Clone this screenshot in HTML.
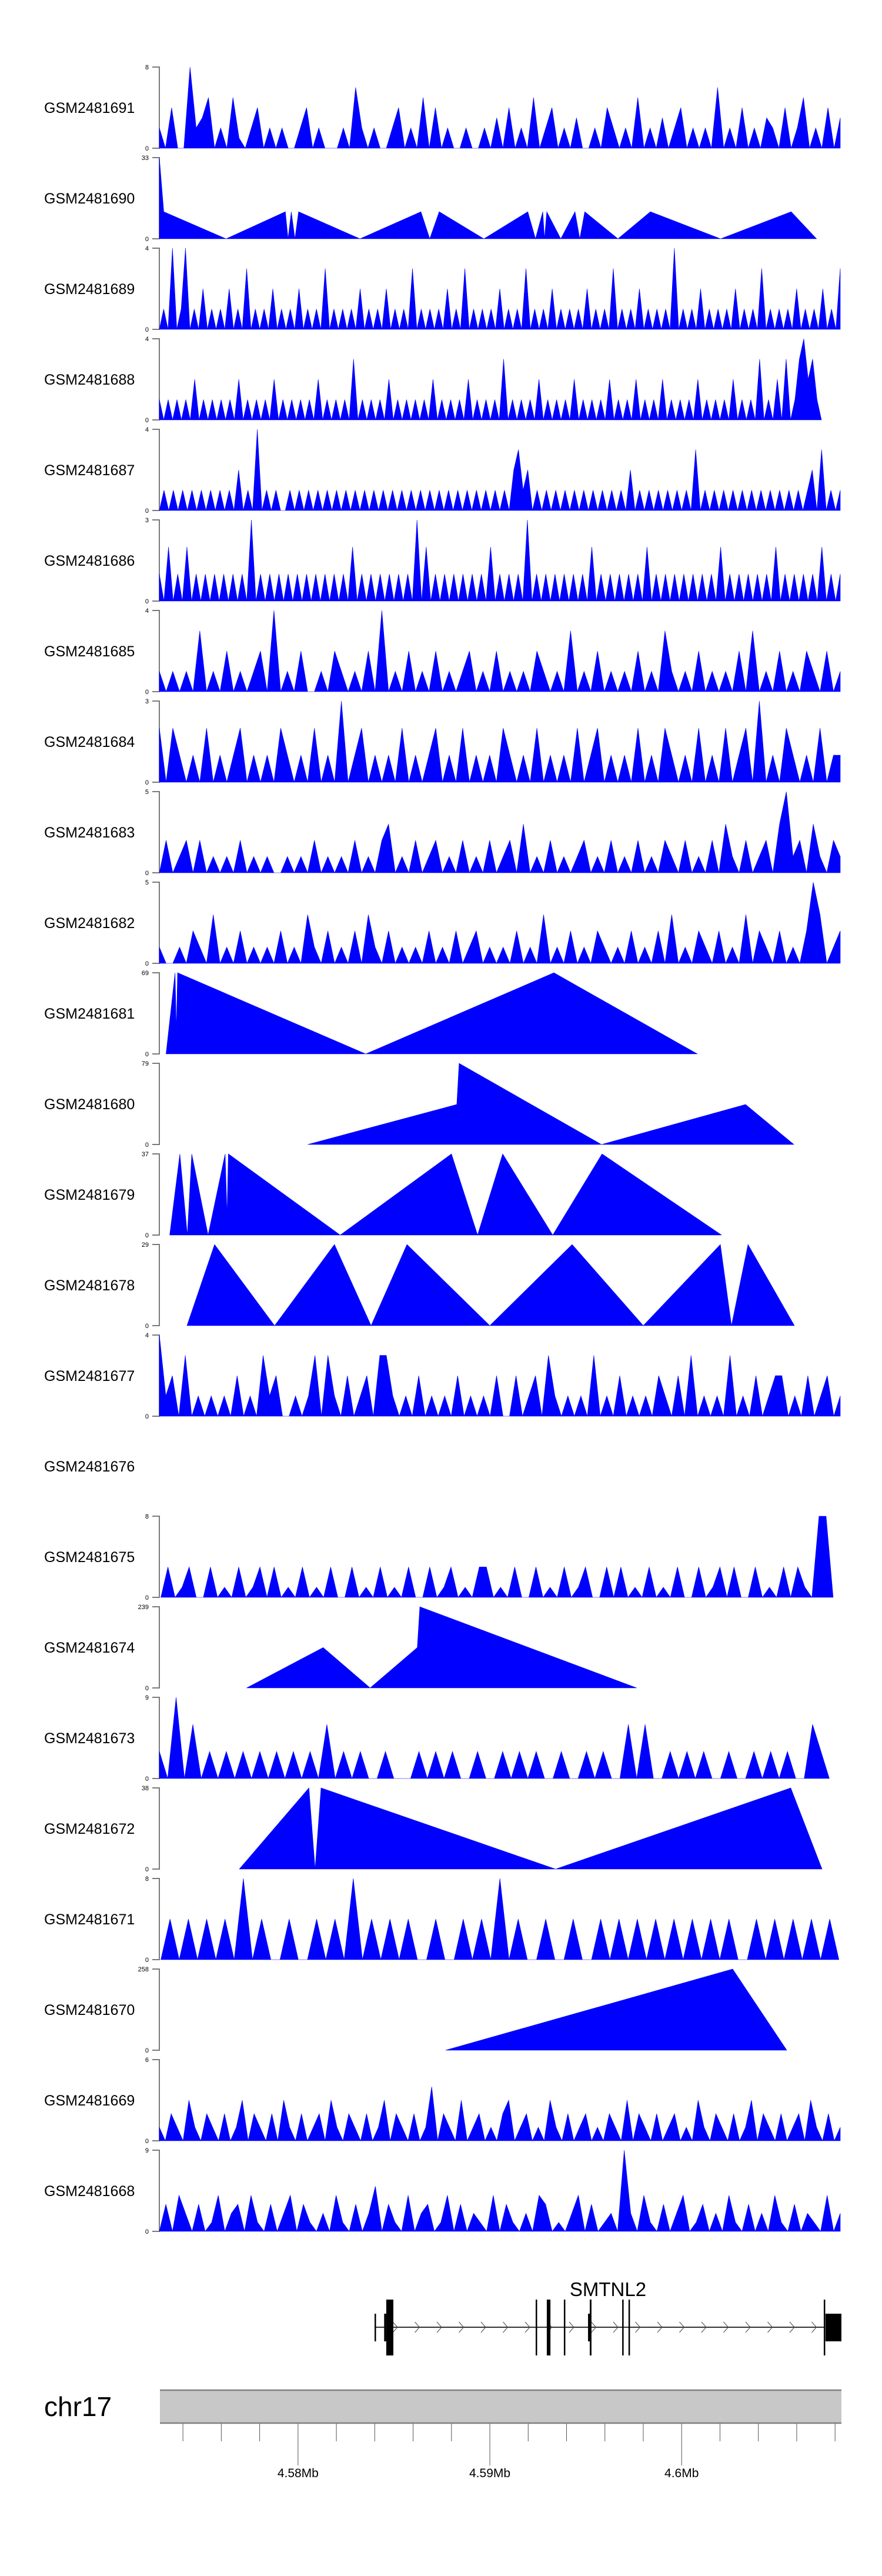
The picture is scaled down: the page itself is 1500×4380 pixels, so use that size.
<!DOCTYPE html>
<html><head><meta charset="utf-8"><style>
html,body{margin:0;padding:0;background:#fff;}
svg{display:block;font-family:"Liberation Sans",sans-serif;}
</style></head><body>
<svg id="chart" width="1500" height="4380" viewBox="0 0 1500 4380" xmlns="http://www.w3.org/2000/svg">
<g id="tracks"></g>
<g id="gene"></g>
<g id="ideo"></g>
</svg>
<script>
// ---- data ----
const trackNames = ["GSM2481691","GSM2481690","GSM2481689","GSM2481688","GSM2481687","GSM2481686","GSM2481685","GSM2481684","GSM2481683","GSM2481682","GSM2481681","GSM2481680","GSM2481679","GSM2481678","GSM2481677","GSM2481676","GSM2481675","GSM2481674","GSM2481673","GSM2481672","GSM2481671","GSM2481670","GSM2481669","GSM2481668"];
const trackMax = [8,33,4,4,4,3,4,3,5,5,69,79,37,29,4,null,8,239,9,38,8,258,6,9];

// point tracks: positions (kb) and values
const pos1690 = [4572.77,4573.00,4576.25,4579.34,4579.48,4579.65,4579.84,4580.03,4583.23,4586.41,4586.87,4587.36,4589.69,4591.98,4592.38,4592.76,4592.85,4592.97,4593.70,4594.44,4594.69,4594.95,4596.68,4598.37,4602.03,4605.71,4607.03];
const val1690 = [33,11,0,11,0,11,0,11,0,11,0,11,0,11,0,11,0,11,0,11,0,11,0,11,0,11,0];
const pos1681 = [4573.12,4573.59,4573.66,4573.72,4583.53,4593.34,4600.82];
const val1681 = [0,69,20,69,0,69,0];
const pos1680 = [4580.50,4588.28,4588.40,4595.82,4603.33,4605.85];
const val1680 = [0,39,79,0,39,0];
const pos1679 = [4573.31,4573.84,4574.23,4574.46,4575.31,4576.20,4576.30,4576.37,4582.20,4588.00,4589.36,4590.67,4593.28,4595.85,4602.08];
const val1679 = [0,37,0,37,0,37,9,37,0,37,0,37,0,37,0];
const pos1678 = [4574.21,4575.65,4578.78,4581.90,4583.81,4585.68,4590.00,4594.29,4598.00,4602.02,4602.60,4603.46,4605.88];
const val1678 = [0,29,0,29,0,29,0,29,0,29,0,29,0];
const pos1674 = [4577.32,4581.31,4583.76,4586.22,4586.35,4597.66];
const val1674 = [0,119,0,119,239,0];
const pos1672 = [4576.94,4580.57,4580.89,4581.20,4593.43,4605.69,4607.32];
const val1672 = [0,38,0,38,0,38,0];
const pos1670 = [4587.69,4602.66,4605.48];
const val1670 = [0,258,0];

// evenly sampled tracks: range (kb) and values
const range1691 = [4572.77,4608.27];
const val1691 = [2,0,4,0,0,8,2,3,5,0,2,0,5,1,0,2,4,0,2,0,2,0,0,2,4,0,2,0,0,0,2,0,6,2,0,2,0,0,2,4,0,2,0,5,0,4,0,2,0,0,2,0,0,2,0,3,0,4,0,2,0,5,0,2,4,0,2,0,3,0,0,2,0,4,2,0,2,0,5,0,2,0,3,0,2,4,0,2,0,2,0,6,0,2,0,4,0,2,0,3,2,0,4,0,2,5,0,2,0,4,0,3];
const range1689 = [4572.77,4608.27];
const val1689 = [0,1,0,4,0,1,4,0,1,0,2,0,1,0,1,0,2,0,1,0,3,0,1,0,1,0,2,0,1,0,1,0,2,0,1,0,1,0,3,0,1,0,1,0,1,0,2,0,1,0,1,0,2,0,1,0,1,0,3,0,1,0,1,0,1,0,2,0,1,0,3,0,1,0,1,0,1,0,2,0,1,0,1,0,3,0,1,0,1,0,2,0,1,0,1,0,1,0,2,0,1,0,1,0,3,0,1,0,1,0,2,0,1,0,1,0,1,0,4,0,1,0,1,0,2,0,1,0,1,0,1,0,2,0,1,0,1,0,3,0,1,0,1,0,1,0,2,0,1,0,1,0,2,0,1,0,3];
const range1688 = [4572.77,4607.29];
const val1688 = [1,0,1,0,1,0,1,0,2,0,1,0,1,0,1,0,1,0,2,0,1,0,1,0,1,0,2,0,1,0,1,0,1,0,1,0,2,0,1,0,1,0,1,0,3,0,1,0,1,0,1,0,2,0,1,0,1,0,1,0,1,0,2,0,1,0,1,0,1,0,2,0,1,0,1,0,1,0,3,0,1,0,1,0,1,0,2,0,1,0,1,0,1,0,2,0,1,0,1,0,1,0,2,0,1,0,1,0,2,0,1,0,1,0,2,0,1,0,1,0,1,0,2,0,1,0,1,0,1,0,2,0,1,0,1,0,3,0,1,0,2,0,3,0,1,3,4,2,3,1,0];
const range1687 = [4572.77,4608.27];
const val1687 = [0,1,0,1,0,1,0,1,0,1,0,1,0,1,0,1,0,2,0,1,0,4,0,1,0,1,0,0,1,0,1,0,1,0,1,0,1,0,1,0,1,0,1,0,1,0,1,0,1,0,1,0,1,0,1,0,1,0,1,0,1,0,1,0,1,0,1,0,1,0,1,0,1,0,1,0,2,3,1,2,0,1,0,1,0,1,0,1,0,1,0,1,0,1,0,1,0,1,0,1,0,2,0,1,0,1,0,1,0,1,0,1,0,1,0,3,0,1,0,1,0,1,0,1,0,1,0,1,0,1,0,1,0,1,0,1,0,1,0,1,2,0,3,0,1,0,1];
const range1686 = [4572.77,4608.27];
const val1686 = [1,0,2,0,1,0,2,0,1,0,1,0,1,0,1,0,1,0,1,0,3,0,1,0,1,0,1,0,1,0,1,0,1,0,1,0,1,0,1,0,1,0,2,0,1,0,1,0,1,0,1,0,1,0,1,0,3,0,2,0,1,0,1,0,1,0,1,0,1,0,1,0,2,0,1,0,1,0,1,0,3,0,1,0,1,0,1,0,1,0,1,0,1,0,2,0,1,0,1,0,1,0,1,0,1,0,2,0,1,0,1,0,1,0,1,0,1,0,1,0,1,0,2,0,1,0,1,0,1,0,1,0,1,0,2,0,1,0,1,0,1,0,1,0,2,0,1,0,1];
const range1685 = [4572.77,4608.27];
const val1685 = [1,0,1,0,1,0,3,0,1,0,2,0,1,0,1,2,0,4,0,1,0,2,0,0,1,0,2,1,0,1,0,2,0,4,0,1,0,2,0,1,0,2,0,1,0,1,2,0,1,0,2,0,1,0,1,0,2,1,0,1,0,3,0,1,0,2,0,1,0,1,0,2,0,1,0,3,1,0,1,0,2,0,1,0,1,0,2,0,3,0,1,0,2,0,1,0,2,1,0,2,0,1];
const range1684 = [4572.77,4608.27];
const val1684 = [2,0,2,1,0,1,0,2,0,1,0,1,2,0,1,0,1,0,2,1,0,1,0,2,0,1,0,3,0,1,2,0,1,0,1,0,2,0,1,0,1,2,0,1,0,2,0,1,0,1,0,2,1,0,1,0,2,0,1,0,1,0,2,0,1,2,0,1,0,1,0,2,0,1,0,2,1,0,1,0,2,0,1,0,2,0,1,2,0,3,0,1,0,2,1,0,1,0,2,0,1,1];
const range1683 = [4572.77,4608.27];
const val1683 = [0,2,0,1,2,0,2,0,1,0,1,0,2,0,1,0,1,0,0,1,0,1,0,2,0,1,0,1,0,2,0,1,0,2,3,0,1,0,2,0,1,2,0,1,0,2,0,1,0,2,0,1,2,0,3,0,1,0,2,0,1,0,1,2,0,1,0,2,0,1,0,2,0,1,0,2,1,0,2,0,1,0,2,0,3,1,0,2,0,1,2,0,3,5,1,2,0,3,1,0,2,1];
const range1682 = [4572.77,4608.27];
const val1682 = [1,0,0,1,0,2,1,0,3,0,1,0,2,0,1,0,1,0,2,0,1,0,3,1,0,2,0,1,0,2,0,3,1,0,2,0,1,0,1,0,2,0,1,0,2,0,1,2,0,1,0,1,0,2,0,1,0,3,0,1,0,2,0,1,0,2,1,0,1,0,2,0,1,0,2,0,3,0,1,0,2,1,0,2,0,1,0,3,0,2,1,0,2,0,1,0,2,5,3,0,1,2];
const range1677 = [4572.77,4608.27];
const val1677 = [4,1,2,0,3,0,1,0,1,0,1,0,2,0,1,0,3,1,2,0,0,1,0,1,3,0,3,1,0,2,0,1,2,0,3,3,1,0,1,0,2,0,1,0,1,0,2,0,1,0,1,0,2,0,0,2,0,1,2,0,3,1,0,1,0,1,0,3,0,1,0,2,0,1,0,1,0,2,1,0,2,0,3,0,1,0,1,0,3,0,1,0,2,0,1,2,2,0,1,0,2,0,1,2,0,1];
const range1675 = [4572.85,4607.9];
const val1675 = [0,3,0,1,3,0,0,3,0,1,0,3,0,1,3,0,3,0,1,0,3,0,1,0,3,0,0,3,0,1,0,3,0,1,0,3,0,0,3,0,1,3,0,1,0,3,3,0,1,0,3,0,0,3,0,1,0,3,0,1,3,0,0,3,0,3,0,1,0,3,0,1,0,3,0,0,3,0,1,3,0,3,0,0,3,0,1,0,3,0,3,1,0,8,8,0];
const range1673 = [4572.77,4607.70];
const val1673 = [3,0,9,0,6,0,3,0,3,0,3,0,3,0,3,0,3,0,3,0,6,0,3,0,3,0,0,3,0,0,0,3,0,3,0,3,0,0,3,0,0,3,0,3,0,3,0,0,3,0,0,3,0,3,0,0,6,0,6,0,0,3,0,3,0,3,0,0,3,0,0,3,0,3,0,3,0,0,6,3,0];
const range1671 = [4572.85,4608.20];
const val1671 = [0,4,0,4,0,4,0,4,0,8,0,4,0,0,4,0,0,4,0,4,0,8,0,4,0,4,0,4,0,0,4,0,0,4,0,4,0,8,0,4,0,0,4,0,0,4,0,0,4,0,4,0,4,0,4,0,4,0,4,0,4,0,4,0,0,4,0,4,0,4,0,4,0,4,0];
const range1669 = [4572.77,4608.27];
const val1669 = [1,0,2,1,0,3,1,0,2,1,0,2,0,1,3,0,2,1,0,2,0,3,1,0,2,0,1,2,0,3,1,0,2,1,0,2,0,1,3,0,2,1,0,2,0,1,4,0,2,1,0,3,0,1,2,0,1,0,2,3,0,1,2,0,1,0,3,1,0,2,0,1,2,0,1,0,2,1,0,3,0,2,1,0,2,0,1,2,0,1,0,3,1,0,2,1,0,2,0,1,3,0,2,1,0,2,0,1,2,0,3,1,0,2,0,1];
const range1668 = [4572.77,4608.27];
const val1668 = [0,3,0,4,2,0,3,0,1,4,0,2,3,0,4,1,0,3,0,2,4,0,3,1,0,2,0,4,1,0,3,0,2,5,0,3,1,0,4,0,2,3,0,1,4,0,3,0,2,1,0,4,0,3,1,0,2,0,4,3,0,1,0,2,4,0,3,0,1,2,0,9,2,0,4,1,0,3,0,2,4,0,1,3,0,2,0,4,1,0,3,0,2,0,4,1,0,3,0,2,1,0,4,0,2];

// gene model (kb)
const exonStarts = [4583.99,4584.49,4584.60,4592.39,4592.97,4593.86,4595.12,4595.21,4596.90,4597.23,4607.41,4607.50];
const exonEnds   = [4584.05,4584.60,4584.97,4592.45,4593.16,4593.92,4595.21,4595.30,4596.96,4597.29,4607.48,4608.33];
const exonTall   = [0,0,1,1,1,1,0,1,1,1,1,0];
const geneSpan = [4583.99,4607.45];
const axisTicks = [4574,4576,4578,4580,4582,4584,4586,4588,4590,4592,4594,4596,4598,4600,4602,4604,4606,4608];
const axisLabels = ["4.58Mb","4.59Mb","4.6Mb"];
const axisLabelPos = [4580,4590,4600];

// ---- drawing ----
const NS = "http://www.w3.org/2000/svg";
const W0 = 271, W1 = 1429, KB0 = 4572.77, KB1 = 4608.27;
function xs(kb){ return W0 + (kb-KB0)/(KB1-KB0)*(W1-W0); }
function trackTop(i){ return 114 + 154*i; }
const TH = 138;
function ys(v,max,i){ return trackTop(i) + TH - v/max*TH; }
function mk(tag, attrs, parent){
  const e = document.createElementNS(NS, tag);
  for (const k in attrs) e.setAttribute(k, attrs[k]);
  parent.appendChild(e);
  return e;
}
const pointData = {1:[pos1690,val1690],10:[pos1681,val1681],11:[pos1680,val1680],12:[pos1679,val1679],13:[pos1678,val1678],17:[pos1674,val1674],19:[pos1672,val1672],21:[pos1670,val1670]};
const evenData = {0:[range1691,val1691],2:[range1689,val1689],3:[range1688,val1688],4:[range1687,val1687],5:[range1686,val1686],6:[range1685,val1685],7:[range1684,val1684],8:[range1683,val1683],9:[range1682,val1682],14:[range1677,val1677],16:[range1675,val1675],18:[range1673,val1673],20:[range1671,val1671],22:[range1669,val1669],23:[range1668,val1668]};

const tracksG = document.getElementById("tracks");
trackNames.forEach((name,i)=>{
  const g = mk("g",{},tracksG);
  
  
  const top = trackTop(i), bot = top + TH;
  const lab = mk("text",{x:75,y:top+TH/2+9,"font-size":25,fill:"#000"},g);
  lab.textContent = name;
  
  
  const max = trackMax[i];
  if (max === null) return;
  const ax = mk("path",{d:`M259 ${top}H271V${bot}H259`,fill:"none",stroke:"#7a7a7a","stroke-width":2},g);
  
  
  const t1 = mk("text",{x:253,y:top+4,"font-size":11,"text-anchor":"end",fill:"#000"},g);
  t1.textContent = String(max);
  
  
  const t0 = mk("text",{x:253,y:bot+4,"font-size":11,"text-anchor":"end",fill:"#000"},g);
  t0.textContent = "0";
  
  
  let pts = [];
  if (pointData[i]) {
    const [p,v] = pointData[i];
    pts = p.map((kb,k)=>[xs(kb), ys(v[k],max,i)]);
  } else {
    const [r,v] = evenData[i];
    const n = v.length;
    pts = v.map((val,k)=>[xs(r[0] + (r[1]-r[0])*k/(n-1)), ys(val,max,i)]);
  }
  let d = `M${pts[0][0].toFixed(1)} ${bot}`;
  pts.forEach(p=>{ d += `L${p[0].toFixed(1)} ${p[1].toFixed(1)}`; });
  d += `L${pts[pts.length-1][0].toFixed(1)} ${bot}Z`;
  const area = mk("path",{d:d,fill:"#0000ff",stroke:"#0000ff","stroke-width":0.6},g);
  
  
});

// gene track
const geneG = document.getElementById("gene");
const gy = 3957;
const gl = mk("line",{x1:xs(geneSpan[0]),x2:xs(geneSpan[1]),y1:gy,y2:gy,stroke:"#333","stroke-width":2},geneG);


for (let x = xs(geneSpan[0]) + 35; x < xs(geneSpan[1]) - 5; x += 37.5) {
  const c = mk("path",{d:`M${x-4} ${gy-9}L${x+4} ${gy}L${x-4} ${gy+9}`,fill:"none",stroke:"#444","stroke-width":1},geneG);
  
  
}
exonStarts.forEach((s,k)=>{
  const x0 = xs(s), x1 = xs(exonEnds[k]);
  const tall = exonTall[k];
  const y0 = tall ? 3910 : 3934, y1 = tall ? 4005 : 3981;
  const r = mk("rect",{x:x0,y:y0,width:Math.max(2.5,x1-x0),height:y1-y0,fill:"#000"},geneG);
  
  
});
const gname = mk("text",{x:1034,y:3904,"font-size":33,"text-anchor":"middle",fill:"#000"},geneG);
gname.textContent = "SMTNL2";



// chromosome axis
const idG = document.getElementById("ideo");
const chr = mk("text",{x:75,y:4108,"font-size":46,fill:"#000"},idG);
chr.textContent = "chr17";


const box = mk("rect",{x:272,y:4063,width:1159,height:58,fill:"#c8c8c8"},idG);


const bt = mk("line",{x1:272,x2:1431,y1:4064,y2:4064,stroke:"#808080","stroke-width":2.5},idG);


const bb = mk("line",{x1:272,x2:1431,y1:4120,y2:4120,stroke:"#808080","stroke-width":2.5},idG);


axisTicks.forEach(t=>{
  const major = axisLabelPos.indexOf(t) >= 0;
  const tk = mk("line",{x1:xs(t),x2:xs(t),y1:4121,y2:major?4192:4151,stroke:"#555","stroke-width":1},idG);
  
  
});
axisLabels.forEach((l,k)=>{
  const tx = mk("text",{x:xs(axisLabelPos[k]),y:4212,"font-size":21,"text-anchor":"middle",fill:"#000"},idG);
  tx.textContent = l;
  
  
});
</script>
</body></html>
